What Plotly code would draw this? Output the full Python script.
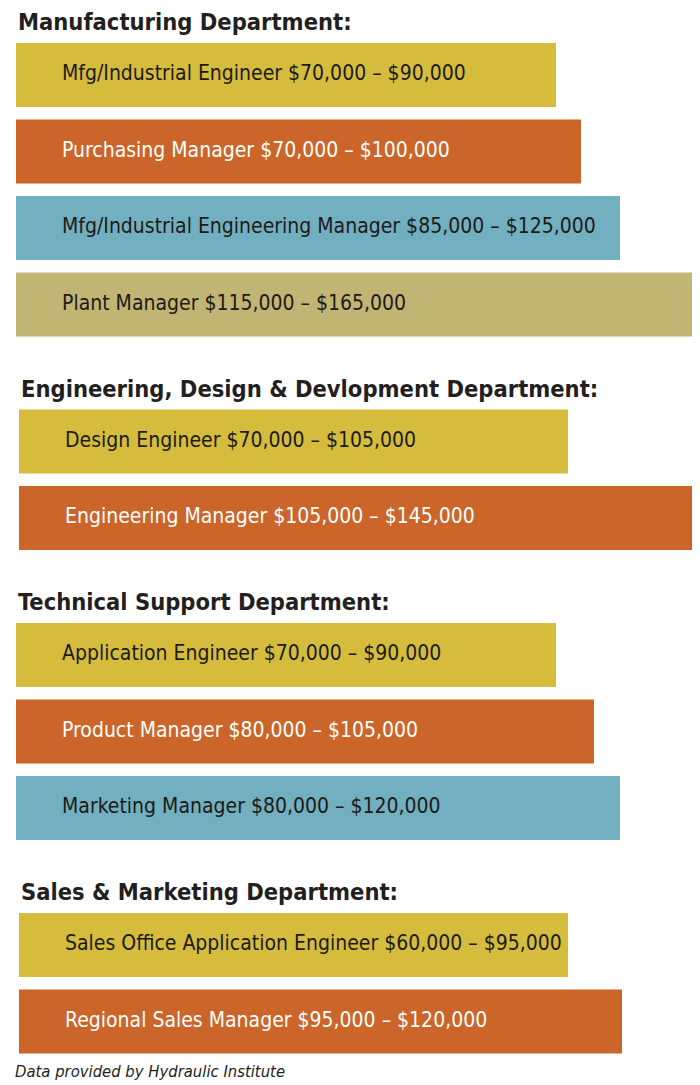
import plotly.graph_objects as go

# ---- data ----
departments = [
    "Manufacturing Department:",
    "Engineering, Design & Devlopment Department:",
    "Technical Support Department:",
    "Sales & Marketing Department:",
]
jobs = [
    "Mfg/Industrial Engineer", "Purchasing Manager",
    "Mfg/Industrial Engineering Manager", "Plant Manager",
    "Design Engineer", "Engineering Manager",
    "Application Engineer", "Product Manager", "Marketing Manager",
    "Sales Office Application Engineer", "Regional Sales Manager",
]
job_dept = [0, 0, 0, 0, 1, 1, 2, 2, 2, 3, 3]
salary_low = ["$70,000", "$70,000", "$85,000", "$115,000", "$70,000", "$105,000",
              "$70,000", "$80,000", "$80,000", "$60,000", "$95,000"]
salary_high = ["$90,000", "$100,000", "$125,000", "$165,000", "$105,000", "$145,000",
               "$90,000", "$105,000", "$120,000", "$95,000", "$120,000"]
# bar lengths as drawn in the infographic (display units)
bar_length = [540, 565, 604, 676, 549, 673, 540, 578, 604, 549, 603]
footer = "Data provided by Hydraulic Institute"

# ---- style / layout constants ----
W, H = 700, 1085
palette = ["#D5BC3D", "#CC6529", "#72AFC0", "#C0B573"]
text_colors = ["#1d1a17", "#ffffff", "#1d1a17", "#1d1a17"]
dept_left = [16, 19, 16, 19]
FONT = "Liberation Sans Narrow, DejaVu Sans Condensed, Arial Narrow, sans-serif"
first_header_y = 22
header_to_bar = 53
pitch = 76.5
bar_to_header = 84
bar_h = 64
text_pad = 46

# compute vertical positions
header_y = []
bar_y = []
y = first_header_y
for d in range(len(departments)):
    header_y.append(y)
    y += header_to_bar
    idxs = [i for i, dd in enumerate(job_dept) if dd == d]
    for k, i in enumerate(idxs):
        bar_y.append(y)
        if k < len(idxs) - 1:
            y += pitch
    y += bar_to_header

rank_in_dept = []
for i, d in enumerate(job_dept):
    rank_in_dept.append(job_dept[:i].count(d))

bases = [dept_left[d] for d in job_dept]
colors = [palette[r] for r in rank_in_dept]
tcolors = [text_colors[r] for r in rank_in_dept]
labels = [f"{j} {lo} \u2013 {hi}" for j, lo, hi in zip(jobs, salary_low, salary_high)]

fig = go.Figure()
fig.add_trace(go.Bar(
    orientation="h", x=bar_length, y=bar_y, base=bases, width=bar_h,
    marker=dict(color=colors, line=dict(width=0)), hoverinfo="skip",
))
fig.add_trace(go.Scatter(
    x=[b + text_pad for b in bases], y=bar_y, mode="text", text=labels,
    textposition="middle right",
    textfont=dict(family=FONT, size=21, color=tcolors), hoverinfo="skip",
))
for d, name in enumerate(departments):
    fig.add_annotation(
        x=dept_left[d] - 0.5, y=header_y[d], text=f"<b>{name}</b>",
        xanchor="left", yanchor="middle", showarrow=False,
        font=dict(family=FONT, size=23.5, color="#231f20"),
    )
fig.add_annotation(
    x=13, y=1071, text=f"<i>{footer}</i>", xanchor="left", yanchor="middle",
    showarrow=False, font=dict(family=FONT, size=16.5, color="#231f20"),
)

fig.update_layout(
    width=W, height=H, margin=dict(l=0, r=0, t=0, b=0),
    paper_bgcolor="white", plot_bgcolor="white", showlegend=False,
    xaxis=dict(range=[0, W], visible=False, fixedrange=True),
    yaxis=dict(range=[H, 0], visible=False, fixedrange=True),
)
fig.write_html("out.html", config={"displayModeBar": False})
